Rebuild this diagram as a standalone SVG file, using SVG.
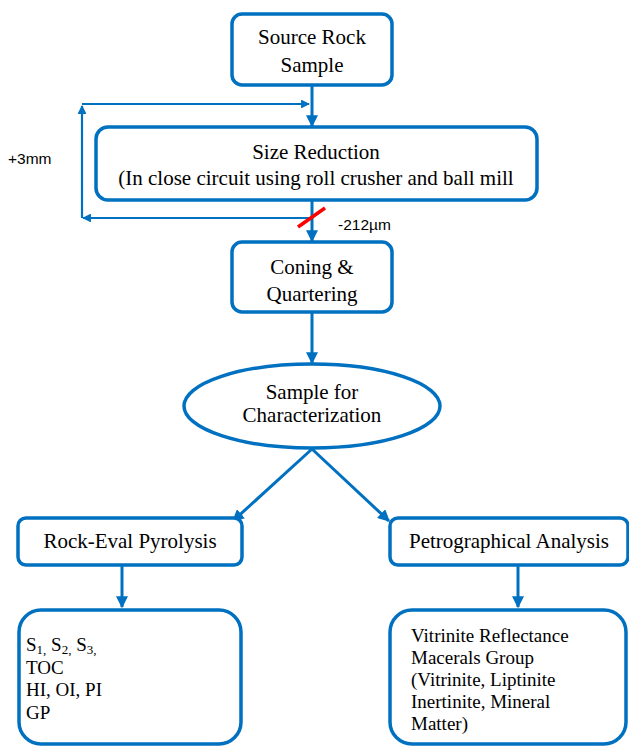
<svg xmlns="http://www.w3.org/2000/svg" width="629" height="746" viewBox="0 0 629 746">
<defs>
<marker id="ah" viewBox="0 0 10 10" refX="9" refY="5" markerWidth="4" markerHeight="4" markerUnits="strokeWidth" orient="auto">
<path d="M0,0 L10,5 L0,10 z" fill="#0070C0"/>
</marker>
<style>
.box{fill:#fff;stroke:#0070C0;stroke-width:3.5}
.ln{fill:none;stroke:#0070C0;stroke-width:3;marker-end:url(#ah)}
.ln2{fill:none;stroke:#0070C0;stroke-width:2.2;marker-end:url(#ah)}
.t{font-family:'Liberation Serif','DejaVu Serif',serif;font-size:21px;fill:#000}
.tb{font-family:'Liberation Serif','DejaVu Serif',serif;font-size:19px;fill:#000}
.s{font-family:'Liberation Sans','DejaVu Sans',sans-serif;font-size:15.5px;fill:#000}
</style>
</defs>
<rect width="629" height="746" fill="#fff"/>
<g id="connectors">
<path class="ln" d="M312,86 V126"/>
<path class="ln2" d="M82,104 H309"/>
<path class="ln2" d="M82,218 V106"/>
<path class="ln2" d="M312,218 H83"/>
<path class="ln" d="M312,200 V241"/>
<path class="ln" d="M312,313 V363"/>
<path class="ln" d="M312,449 L233,521"/>
<path class="ln" d="M312,449 L389,521"/>
<path class="ln" d="M122,566 V607"/>
<path class="ln" d="M518,566 V607"/>
<line x1="298" y1="227" x2="325" y2="208" stroke="#FF0000" stroke-width="3.5"/>
</g>
<g id="n-source"><rect class="box" x="232" y="14" width="160" height="71" rx="10"/>
<text class="t" x="312" y="44" text-anchor="middle">Source Rock</text>
<text class="t" x="312" y="72" text-anchor="middle">Sample</text></g>
<g id="n-size"><rect class="box" x="96" y="127" width="441" height="73" rx="12"/>
<text class="t" x="316" y="159" text-anchor="middle">Size Reduction</text>
<text class="t" x="316" y="185" text-anchor="middle">(In close circuit using roll crusher and ball mill</text></g>
<g id="lbl-3mm"><text class="s" x="8" y="164">+3mm</text></g>
<g id="lbl-212"><text class="s" x="338" y="230">-212µm</text></g>
<g id="n-coning"><rect class="box" x="232" y="242" width="160" height="70" rx="10"/>
<text class="t" x="312" y="274" text-anchor="middle">Coning &amp;</text>
<text class="t" x="312" y="301" text-anchor="middle">Quartering</text></g>
<g id="n-sample"><ellipse class="box" cx="312" cy="406" rx="128" ry="42"/>
<text class="t" x="312" y="399" text-anchor="middle">Sample for</text>
<text class="t" x="312" y="422" text-anchor="middle">Characterization</text></g>
<g id="n-rockeval"><rect class="box" x="18" y="518" width="224" height="47" rx="8"/>
<text class="t" x="130" y="548" text-anchor="middle">Rock-Eval Pyrolysis</text></g>
<g id="n-petro"><rect class="box" x="390" y="518" width="238" height="47" rx="8"/>
<text class="t" x="509" y="548" text-anchor="middle">Petrographical Analysis</text></g>
<g id="n-results1"><rect class="box" x="19" y="610" width="222" height="134" rx="22"/>
<text class="tb" x="26" y="651">S<tspan font-size="13" dy="3">1,</tspan><tspan dy="-3"> S</tspan><tspan font-size="13" dy="3">2,</tspan><tspan dy="-3"> S</tspan><tspan font-size="13" dy="3">3,</tspan></text>
<text class="tb" x="26" y="674">TOC</text>
<text class="tb" x="26" y="696">HI, OI, PI</text>
<text class="tb" x="26" y="719">GP</text></g>
<g id="n-results2"><rect class="box" x="390" y="610" width="236" height="134" rx="22"/>
<text class="tb" x="411" y="642">Vitrinite Reflectance</text>
<text class="tb" x="411" y="664">Macerals Group</text>
<text class="tb" x="411" y="686">(Vitrinite, Liptinite</text>
<text class="tb" x="411" y="708">Inertinite, Mineral</text>
<text class="tb" x="411" y="730">Matter)</text></g>
</svg>
